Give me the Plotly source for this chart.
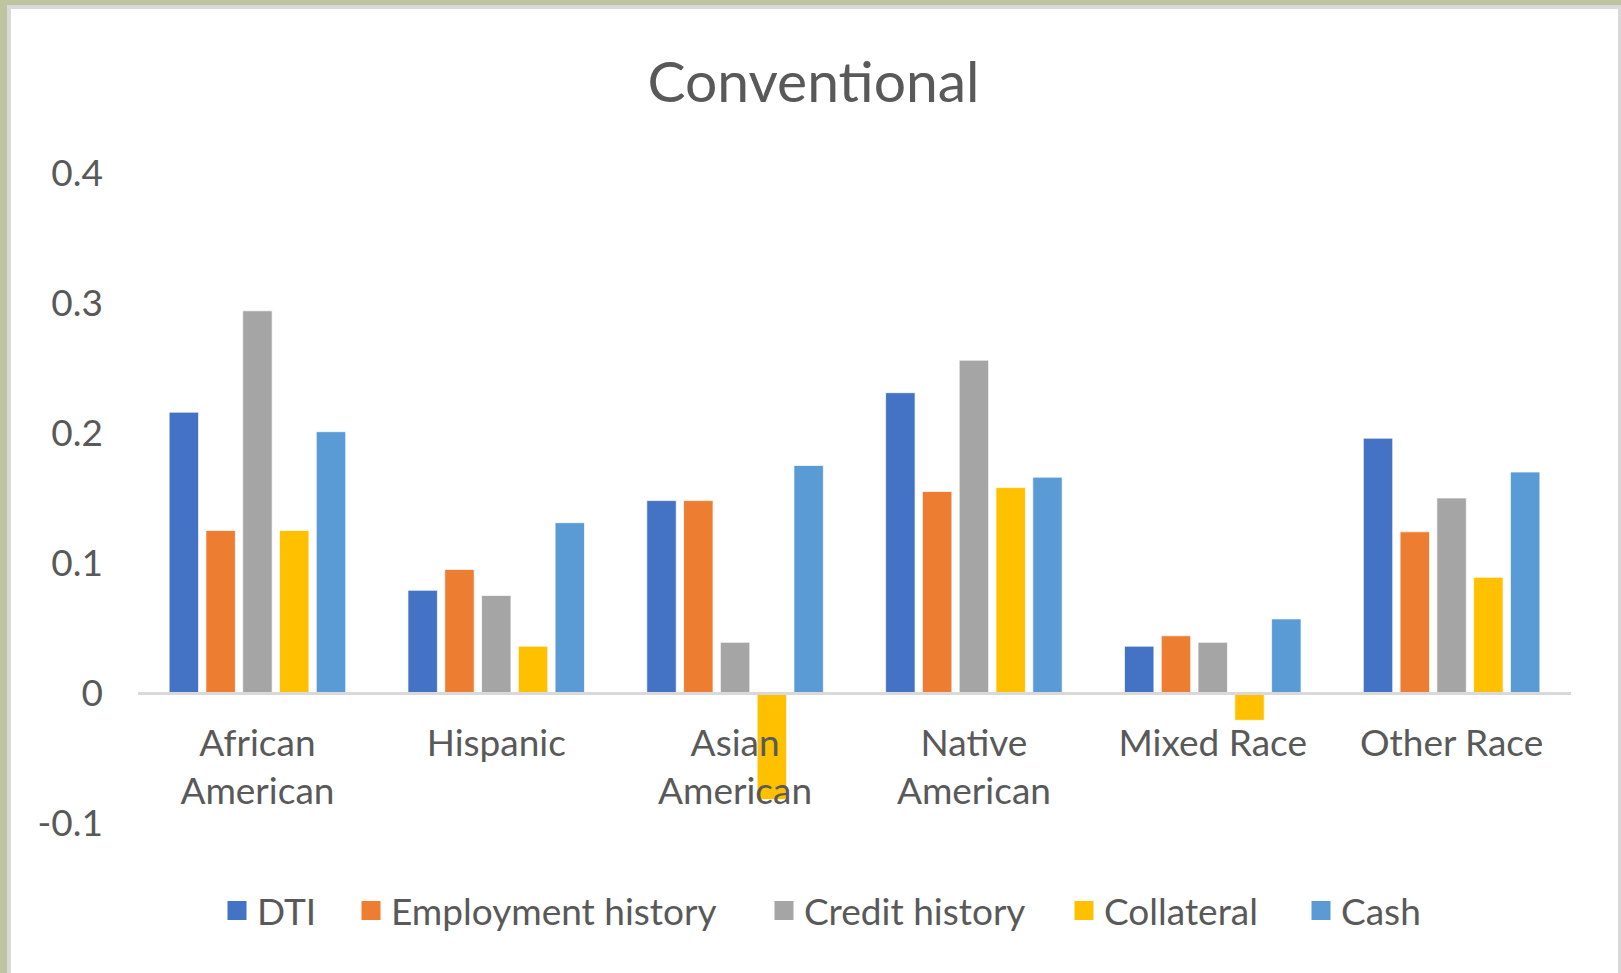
import plotly.graph_objects as go

# Category labels and values per factor
categories = ["African<br>American", "Hispanic", "Asian<br>American",
              "Native<br>American", "Mixed Race", "Other Race"]
dti = [0.216, 0.079, 0.148, 0.231, 0.036, 0.196]
employment = [0.125, 0.095, 0.148, 0.155, 0.044, 0.124]
credit = [0.294, 0.075, 0.039, 0.256, 0.039, 0.150]
collateral = [0.125, 0.036, -0.082, 0.158, -0.021, 0.089]
cash = [0.201, 0.131, 0.175, 0.166, 0.057, 0.170]

series_names = ["DTI", "Employment history", "Credit history", "Collateral", "Cash"]
series_values = [dti, employment, credit, collateral, cash]
colors = ["#4472C4", "#ED7D31", "#A5A5A5", "#FFC000", "#5B9BD5"]

y_ticks = [-0.1, 0, 0.1, 0.2, 0.3, 0.4]
y_tick_text = ["-0.1", "0", "0.1", "0.2", "0.3", "0.4"]

W, H = 1621, 973
L, R, T, B = 138, 50, 173, 150
PW, PH = W - L - R, H - T - B
TEXT = "#595959"
FONT = "Lato"


def px_x(px):
    return (px - L) / PW


def px_y(py):
    return (H - B - py) / PH


fig = go.Figure()

legend_ids = ["legend", "legend2", "legend3", "legend4", "legend5"]
for name, vals, col, lg in zip(series_names, series_values, colors, legend_ids):
    fig.add_trace(go.Bar(
        x=categories, y=vals, name=name,
        marker=dict(color=col, line=dict(color="rgba(255,255,255,0.7)", width=1)),
        showlegend=False,
    ))
    # square swatch for the legend entry
    fig.add_trace(go.Scatter(
        x=[None], y=[None], mode="markers", name=name,
        marker=dict(symbol="square", size=16, color=col,
                    line=dict(color=col, width=3)),
        legend=lg, showlegend=True,
    ))

# legend entries laid out in one row under the chart
swatch_centers = [237, 371, 784, 1084, 1321]
legend_layout = {}
for lg, cx in zip(legend_ids, swatch_centers):
    legend_layout[lg] = dict(
        x=px_x(cx - 20), xanchor="left",
        y=px_y(911), yanchor="middle",
        orientation="h",
        font=dict(family=FONT, size=37, color=TEXT),
        bgcolor="rgba(0,0,0,0)", borderwidth=0,
    )

# frame around the chart area
shapes = [
    dict(type="rect", xref="paper", yref="paper", layer="below",
         x0=px_x(7), x1=px_x(W + 5), y0=px_y(H + 5), y1=px_y(5),
         fillcolor="#D9D9D9", line=dict(width=0)),
    dict(type="rect", xref="paper", yref="paper", layer="below",
         x0=px_x(11), x1=px_x(1618), y0=px_y(H + 5), y1=px_y(9),
         fillcolor="#FFFFFF", line=dict(width=0)),
]

fig.update_layout(
    width=W, height=H,
    margin=dict(l=L, r=R, t=T, b=B, pad=0),
    paper_bgcolor="#BFC4A0",
    plot_bgcolor="rgba(0,0,0,0)",
    barmode="group", bargap=0.23, bargroupgap=0.2,
    title=dict(text="Conventional", x=813.5 / W, xref="container", xanchor="center",
               y=1 - 82 / H, yref="container", yanchor="middle",
               font=dict(family=FONT, size=57, color=TEXT)),
    font=dict(family=FONT, color=TEXT),
    shapes=shapes,
    **legend_layout,
)

fig.update_xaxes(
    type="category", anchor="free", position=0.2,
    showline=True, linecolor="#D9D9D9", linewidth=2.5,
    showgrid=False, zeroline=False, ticks="",
    tickfont=dict(family=FONT, size=37, color=TEXT),
    ticklabelstandoff=17,
)
fig.update_yaxes(
    range=[-0.1, 0.4], tickvals=y_ticks, ticktext=y_tick_text,
    showgrid=False, zeroline=False, showline=False, ticks="",
    tickfont=dict(family=FONT, size=37, color=TEXT),
    ticklabelstandoff=34,
)

fig.write_html("out.html")
